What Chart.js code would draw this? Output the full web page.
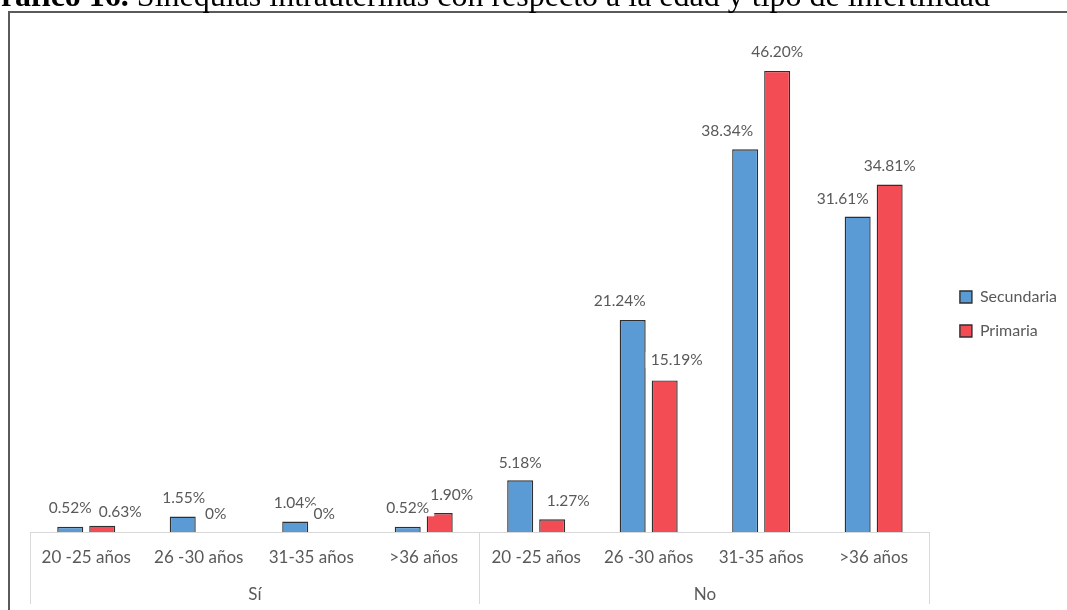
<!DOCTYPE html>
<html lang="es">
<head>
<meta charset="utf-8">
<title>Sinequias intrauterinas</title>
<script src="https://cdn.jsdelivr.net/npm/chart.js@4.4.1/dist/chart.umd.min.js"></script>
<style>
  html, body { margin: 0; padding: 0; background: #fff; }
  body { width: 1067px; height: 610px; position: relative; overflow: hidden; }
  #heading {
    position: absolute; left: -24px; top: -21px; margin: 0;
    font-family: "Liberation Serif", "Times New Roman", serif;
    font-size: 32px; line-height: 32px; font-weight: normal; color: #000;
    white-space: nowrap; z-index: 2;
  }
  #heading b { font-weight: bold; }
  #frame {
    position: absolute; left: 8px; top: 11px; width: 1100px; height: 700px;
    border-left: 2px solid #5a5a5a; border-top: 2px solid #5a5a5a;
  }
  #wrap { position: absolute; left: 0; top: 0; width: 1067px; height: 610px; }
</style>
</head>
<body>
<h1 id="heading"><b>Gráfico 16.</b> Sinequias intrauterinas con respecto a la edad y tipo de infertilidad</h1>
<div id="frame"></div>
<div id="wrap"><canvas id="chart" width="1067" height="610"></canvas></div>
<script>
// Age bands (lower axis row) and the infertility-history groups (second row)
const ageBands = ['20 -25 años', '26 -30 años', '31-35 años', '>36 años'];
const groups = ['Sí', 'No'];
const categories = groups.flatMap(() => ageBands);

// Percentage of patients per series, in the order Sí × ages, then No × ages
const secundaria = [0.52, 1.55, 1.04, 0.52, 5.18, 21.24, 38.34, 31.61];
const primaria   = [0.63, 0, 0, 1.90, 1.27, 15.19, 46.20, 34.81];

const gray = '#595959';
const lineGray = '#d9d9d9';
const labelFont = 'Lato, "Open Sans", sans-serif';

// Value labels above each bar, on a white box so a later label covers an earlier one
const valueLabels = {
  id: 'valueLabels',
  afterDatasetsDraw(chart, args, opts) {
    const ctx = chart.ctx;
    ctx.save();
    ctx.font = opts.size + 'px ' + opts.family;
    ctx.textAlign = 'center';
    ctx.textBaseline = 'middle';
    chart.data.datasets.forEach((ds, di) => {
      const meta = chart.getDatasetMeta(di);
      meta.data.forEach((bar, i) => {
        const v = ds.data[i];
        const text = v === 0 ? '0%' : v.toFixed(2) + '%';
        const shift = (opts.shift[di] || [])[i] || [0, 0];
        const x = bar.x + shift[0];
        const y = bar.y - opts.gap + shift[1];
        const w = ctx.measureText(text).width;
        ctx.fillStyle = '#ffffff';
        ctx.fillRect(x - w / 2 - 5, y - 8, w + 10, 16);
        ctx.fillStyle = opts.color;
        ctx.fillText(text, x, y);
      });
    });
    ctx.restore();
  }
};

new Chart(document.getElementById('chart'), {
  type: 'bar',
  data: {
    labels: categories,
    datasets: [
      {
        label: 'Secundaria',
        data: secundaria,
        backgroundColor: '#5b9bd5',
        borderColor: '#2f2f2f',
        borderWidth: 1.4,
        categoryPercentage: 0.569,
        barPercentage: 0.8125
      },
      {
        label: 'Primaria',
        data: primaria,
        backgroundColor: '#f44c55',
        borderColor: '#2f2f2f',
        borderWidth: 1.4,
        categoryPercentage: 0.569,
        barPercentage: 0.8125
      }
    ]
  },
  plugins: [valueLabels],
  options: {
    responsive: false,
    animation: false,
    devicePixelRatio: 1,
    layout: { padding: { left: 30, right: 0, top: 23, bottom: 5 } },
    scales: {
      y: { display: false, min: 0, max: 51 },
      gap: {
        type: 'linear', position: 'right', display: true,
        grid: { display: false }, border: { display: false },
        ticks: { display: false },
        afterFit(scale) { scale.width = 12; }
      },
      x: {
        position: 'bottom',
        weight: 0,
        offset: true,
        grid: {
          offset: true,
          drawOnChartArea: false,
          drawTicks: true,
          tickLength: 72,
          lineWidth: 1,
          // separators only at the edges of each group (the closing edge has no tick context)
          color: (c) => (c.type !== 'tick' || c.index % ageBands.length === 0 ? lineGray : 'rgba(0,0,0,0)')
        },
        border: { display: true, color: lineGray, width: 1 },
        ticks: {
          color: gray,
          font: { family: labelFont, size: 17 },
          padding: -57,
          maxRotation: 0,
          autoSkip: false
        },
        afterFit(scale) { scale.height = 43; }
      },
      group: {
        type: 'category',
        labels: groups,
        position: 'bottom',
        weight: 1,
        offset: true,
        grid: { display: false },
        border: { display: false },
        ticks: {
          color: gray,
          font: { family: labelFont, size: 17 },
          padding: 1,
          maxRotation: 0,
          autoSkip: false
        },
        afterFit(scale) { scale.height = 30; }
      }
    },
    plugins: {
      tooltip: { enabled: false },
      title: { display: false },
      legend: {
        position: 'right',
        labels: {
          color: gray,
          font: { family: labelFont, size: 16 },
          boxWidth: 12,
          boxHeight: 12,
          padding: 18
        }
      },
      valueLabels: {
        family: labelFont,
        size: 15.5,
        color: gray,
        gap: 18.5,
        shift: [
          [[0, 0], [1, 0], [0, 0], [0, 0], [0, 1], [-13, -1], [-18, 0], [-15, 1]],
          [[18, 5], [1, 0], [-3, 0], [12, 0], [16, 0], [12, -2], [0, 0], [0, 0]]
        ]
      }
    }
  }
});
</script>
</body>
</html>
